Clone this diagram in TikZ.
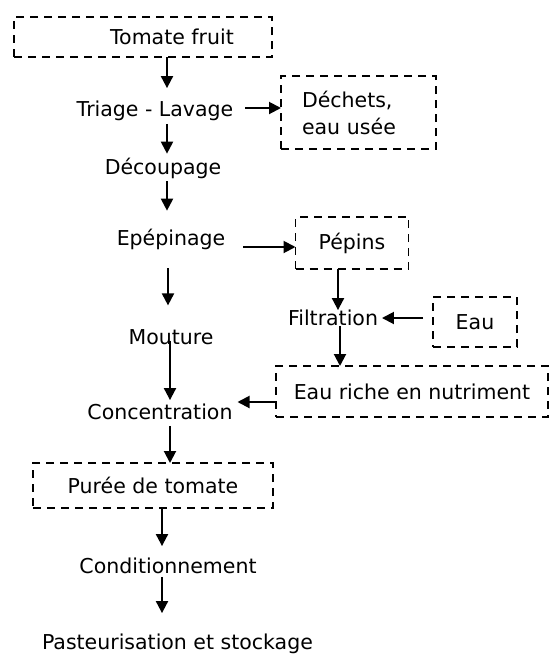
\documentclass[tikz,border=0pt]{standalone}
\usepackage{fontspec}
\setmainfont{DejaVu Sans}
\usetikzlibrary{arrows.meta}
\begin{document}
\begin{tikzpicture}[x=1pt,y=-1pt,inner sep=0pt,outer sep=0pt,
    every node/.style={font=\fontsize{20.5}{27}\selectfont},
    boite/.style={draw,line width=1.8pt,dash pattern=on 8pt off 6pt,rectangle},
    fleche/.style={line width=2pt,-{Triangle[length=12pt,width=12pt]}}]
    \useasboundingbox (0,0) rectangle (550,657);
    \coordinate (axe) at (167,0);
    \node[boite,minimum width=258pt,minimum height=40pt] (tomate) at (143,37) {\hspace*{58pt}Tomate fruit};
    \node (triage) at (155,111) {Triage - Lavage};
    \node[boite,minimum height=73pt,text width=113pt,inner xsep=21pt,align=left] (dechets) at (358.5,112.5) {Déchets,\\eau usée};
    \node (decoup) at (163,168) {Découpage};
    \node (epep) at (171,239) {Epépinage};
    \node[boite,minimum width=113pt,minimum height=52pt] (pepins) at (352,243) {Pépins};
    \node (mout) at (171,337) {Mouture};
    \node (filtr) at (333,318) {Filtration};
    \node[boite,minimum width=84pt,minimum height=50pt] (eau) at (475,322) {Eau};
    \node[boite,minimum width=272pt,minimum height=51pt] (riche) at (412,391.5) {Eau riche en nutriment};
    \node (concen) at (160,412) {Concentration};
    \node[boite,minimum width=240pt,minimum height=45pt] (puree) at (153,485.5) {Purée de tomate};
    \node (condi) at (168,566) {Conditionnement};
    \node[anchor=west] (paste) at (42,644) {Pasteurisation et stockage};

    \draw[fleche,shorten >=13pt] (tomate.south -| axe) -- (triage.north -| axe);
    \draw[fleche,shorten <=3pt,shorten >=4pt] (triage.south -| axe) -- (decoup.north -| axe);
    \draw[fleche,shorten <=3pt,shorten >=18pt] (decoup.south -| axe) -- (epep.north -| axe);
    \draw[fleche,shorten <=19pt,shorten >=24pt] ([xshift=1pt]epep.south -| axe) -- ([xshift=1pt]mout.north -| axe);
    \draw[fleche,shorten <=-4pt,shorten >=4pt] ([xshift=3pt]mout.south -| axe) -- ([xshift=3pt]concen.north -| axe);
    \draw[fleche,shorten <=6pt] ([xshift=3pt]concen.south -| axe) -- ([xshift=3pt]puree.north -| axe);
    \draw[fleche,shorten >=12pt] ([xshift=-5pt]puree.south -| axe) -- ([xshift=-5pt]condi.north -| axe);
    \draw[fleche,shorten <=3pt,shorten >=21pt] ([xshift=-5pt]condi.south -| axe) -- ([xshift=-5pt]paste.north -| axe);

    \draw[fleche,shorten <=12pt] ([yshift=3pt]triage.east) -- ([yshift=3pt]triage.east -| dechets.west);
    \draw[fleche,shorten <=18pt] ([yshift=-8pt]epep.east) -- ([yshift=-8pt]epep.east -| pepins.west);
    \draw[fleche] ([xshift=5pt]pepins.south -| filtr) -- ([xshift=5pt]filtr.north);
    \draw[fleche,shorten <=10pt,shorten >=4pt] ([yshift=4pt]eau.west) -- ([yshift=4pt]eau.west -| filtr.east);
    \draw[fleche] ([xshift=7pt]filtr.south) -- ([xshift=7pt]filtr.south |- riche.north);
    \draw[fleche,shorten >=5pt] ([yshift=-10.5pt]riche.west) -- ([yshift=-10.5pt]riche.west -| concen.east);
\end{tikzpicture}
\end{document}
